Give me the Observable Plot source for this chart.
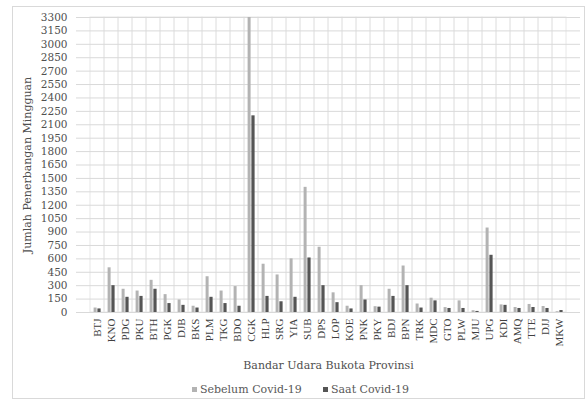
<!DOCTYPE html>
<html>
<head>
<meta charset="utf-8">
<script src="https://cdn.jsdelivr.net/npm/d3@7"></script>
<script src="https://cdn.jsdelivr.net/npm/@observablehq/plot@0.6"></script>
<style>
  html, body { margin: 0; padding: 0; background: #fff; }
  #wrap { position: relative; width: 587px; height: 401px; overflow: hidden; }
  #frame { position: absolute; left: 12px; top: 6px; width: 571px; height: 391px; border: 1px solid #d9d9d9; pointer-events: none; }
  #chart { position: absolute; left: 0; top: 0; }
  .legend { position: absolute; top: 383px; font-family: "DejaVu Serif", "Liberation Serif", serif; font-size: 11px; color: #595959; display: flex; align-items: center; white-space: nowrap; }
  .legend i { display: inline-block; width: 5px; height: 5px; margin-right: 3px; }
</style>
</head>
<body>
<div id="wrap">
  <div id="chart"></div>
  <div id="frame"></div>
  <div class="legend" style="left:192px"><i style="background:#b3b3b3"></i>Sebelum Covid-19</div>
  <div class="legend" style="left:323px"><i style="background:#555555"></i>Saat Covid-19</div>
</div>
<script>
// Weekly flights per provincial-capital airport, before and during Covid-19
const airports = ["BTJ","KNO","PDG","PKU","BTH","PGK","DJB","BKS","PLM","TKG","BDO","CGK","HLP","SRG","YIA","SUB","DPS","LOP","KOE","PNK","PKY","BDJ","BPN","TRK","MDC","GTO","PLW","MJU","UPG","KDI","AMQ","TTE","DJJ","MKW"];
const before = [50,500,260,240,360,200,140,70,400,240,290,3300,540,420,600,1400,730,220,70,300,65,260,520,95,160,55,130,20,945,85,56,90,67,8];
const during = [40,300,170,180,260,100,80,50,170,100,70,2200,180,120,170,610,300,110,40,140,60,180,300,50,130,45,45,12,640,80,45,56,45,22];
const yTicks = d3.range(0, 3301, 150);

const xTitle = "Bandar Udara Bukota Provinsi";
const yTitle = "Jumlah Penerbangan Mingguan";

const rows = airports.map((a, i) => ({airport: a, before: before[i], during: during[i]}));

const chart = Plot.plot({
  width: 587,
  height: 375,
  marginLeft: 76,
  marginRight: 7,
  marginTop: 17,
  marginBottom: 63,
  style: {fontFamily: "'Liberation Serif', serif", fontSize: "11px", color: "#595959", background: "transparent"},
  x: {domain: airports, padding: 0, label: null},
  y: {domain: [0, 3300], label: null},
  marks: [
    // category cells (vertical grid)
    Plot.barY(airports, {x: d => d, y1: 0, y2: 3300, fill: "none", stroke: "#e8e8e8"}),
    Plot.gridY(yTicks, {stroke: "#d9d9d9", strokeOpacity: 1}),
    Plot.barY(rows, {x: "airport", y: "before", fill: "#b3b3b3", insetLeft: 3.6, insetRight: 7.4}),
    Plot.barY(rows, {x: "airport", y: "during", fill: "#555555", insetLeft: 7.4, insetRight: 3.4}),
    Plot.axisX({tickSize: 0, tickRotate: -90, tickPadding: 6, fontSize: 11, fill: "#404040"}),
    Plot.axisY(yTicks, {tickSize: 0, tickPadding: 9, tickFormat: d => String(d), fontFamily: "'DejaVu Serif', serif", fontSize: 10.5, fill: "#505050"}),
    Plot.text([xTitle], {frameAnchor: "bottom", dy: 53, lineAnchor: "middle", fontFamily: "'DejaVu Serif', serif", fontSize: 11, fill: "#505050"}),
    Plot.text([yTitle], {frameAnchor: "left", dx: -49, rotate: -90, lineAnchor: "middle", textAnchor: "middle", fontFamily: "'DejaVu Serif', serif", fontSize: 11, fill: "#505050"})
  ]
});
document.getElementById("chart").append(chart);
</script>
</body>
</html>
